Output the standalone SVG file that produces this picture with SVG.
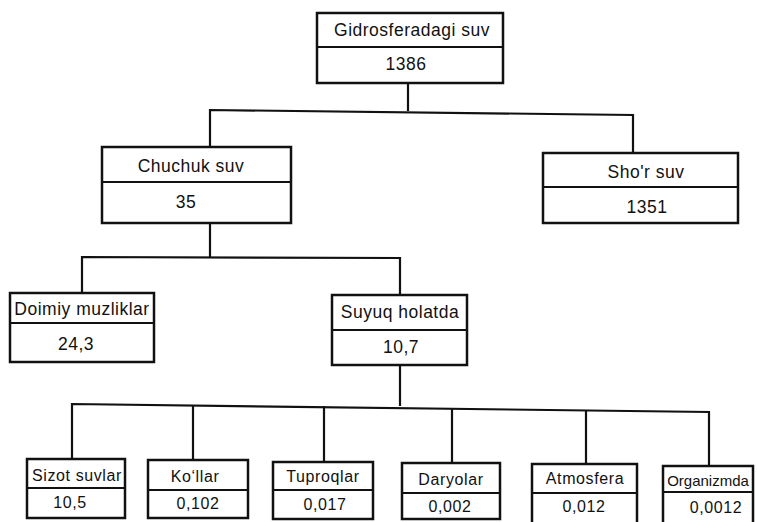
<svg xmlns="http://www.w3.org/2000/svg" width="757" height="522" viewBox="0 0 757 522">
<style>
.box{fill:#fff;stroke:#111;stroke-width:2.5}
.div{stroke:#111;stroke-width:2}
.ln{fill:none;stroke:#111;stroke-width:2.2}
text{font-family:"Liberation Sans",Arial,sans-serif;fill:#111;text-anchor:middle}
.t{font-size:17.5px;letter-spacing:0.5px}
.s{font-size:16px;letter-spacing:0.6px}
.n{font-size:15px}
</style>
<rect width="757" height="522" fill="#fff"/>
<g id="connectors">
<polyline class="ln" points="408,83 408,111"/>
<polyline class="ln" points="210,147 210,110 633,115 633,153"/>
<polyline class="ln" points="210,223 210,257"/>
<polyline class="ln" points="82,293 82,257 400,258 400,295"/>
<polyline class="ln" points="400,365 400,406"/>
<polyline class="ln" points="72,459 72,404 709,412 709,466"/>
<line class="ln" x1="193" y1="405" x2="193" y2="460"/>
<line class="ln" x1="324" y1="406" x2="324" y2="462"/>
<line class="ln" x1="452" y1="408" x2="452" y2="463"/>
<line class="ln" x1="586" y1="410" x2="586" y2="464"/>
</g>
<g id="n-gidro">
<rect class="box" x="317" y="13" width="186" height="70"/>
<line class="div" x1="317" y1="47" x2="503" y2="47"/>
<text class="t" x="412" y="36">Gidrosferadagi suv</text>
<text class="t" x="406" y="70">1386</text>
</g>
<g id="n-chuchuk">
<rect class="box" x="102" y="147" width="189" height="76"/>
<line class="div" x1="102" y1="182" x2="291" y2="182"/>
<text class="t" x="191" y="172">Chuchuk suv</text>
<text class="t" x="186" y="208">35</text>
</g>
<g id="n-shor">
<rect class="box" x="543" y="153" width="195" height="70"/>
<line class="div" x1="543" y1="187" x2="738" y2="187"/>
<text class="t" x="646" y="178">Sho'r suv</text>
<text class="t" x="647" y="213">1351</text>
</g>
<g id="n-doimiy">
<rect class="box" x="10" y="293" width="144" height="69"/>
<line class="div" x1="10" y1="323" x2="154" y2="323"/>
<text class="t" x="82" y="315">Doimiy muzliklar</text>
<text class="t" x="76" y="350">24,3</text>
</g>
<g id="n-suyuq">
<rect class="box" x="332" y="295" width="135" height="70"/>
<line class="div" x1="332" y1="330" x2="467" y2="330"/>
<text class="t" x="400" y="318">Suyuq holatda</text>
<text class="t" x="401" y="353">10,7</text>
</g>
<g id="n-sizot">
<rect class="box" x="27" y="459" width="98" height="59"/>
<line class="div" x1="27" y1="488" x2="125" y2="488"/>
<text class="s" x="77" y="481">Sizot suvlar</text>
<text class="s" x="70" y="508">10,5</text>
</g>
<g id="n-kollar">
<rect class="box" x="148" y="460" width="100" height="58"/>
<line class="div" x1="148" y1="490" x2="248" y2="490"/>
<text class="s" x="195" y="482">Ko‘llar</text>
<text class="s" x="198" y="509">0,102</text>
</g>
<g id="n-tuproq">
<rect class="box" x="273" y="462" width="100" height="57"/>
<line class="div" x1="273" y1="490" x2="373" y2="490"/>
<text class="s" x="323" y="482">Tuproqlar</text>
<text class="s" x="325" y="510">0,017</text>
</g>
<g id="n-daryo">
<rect class="box" x="402" y="463" width="98" height="56"/>
<line class="div" x1="402" y1="493" x2="500" y2="493"/>
<text class="s" x="451" y="485">Daryolar</text>
<text class="s" x="450" y="512">0,002</text>
</g>
<g id="n-atmos">
<rect class="box" x="532" y="464" width="105" height="62"/>
<line class="div" x1="532" y1="493" x2="637" y2="493"/>
<text class="s" x="585" y="484">Atmosfera</text>
<text class="s" x="584" y="512">0,012</text>
</g>
<g id="n-organ">
<rect class="box" x="663" y="466" width="90" height="62"/>
<line class="div" x1="663" y1="492" x2="753" y2="492"/>
<text class="n" x="708" y="486">Organizmda</text>
<text class="s" x="716" y="513">0,0012</text>
</g>
</svg>
